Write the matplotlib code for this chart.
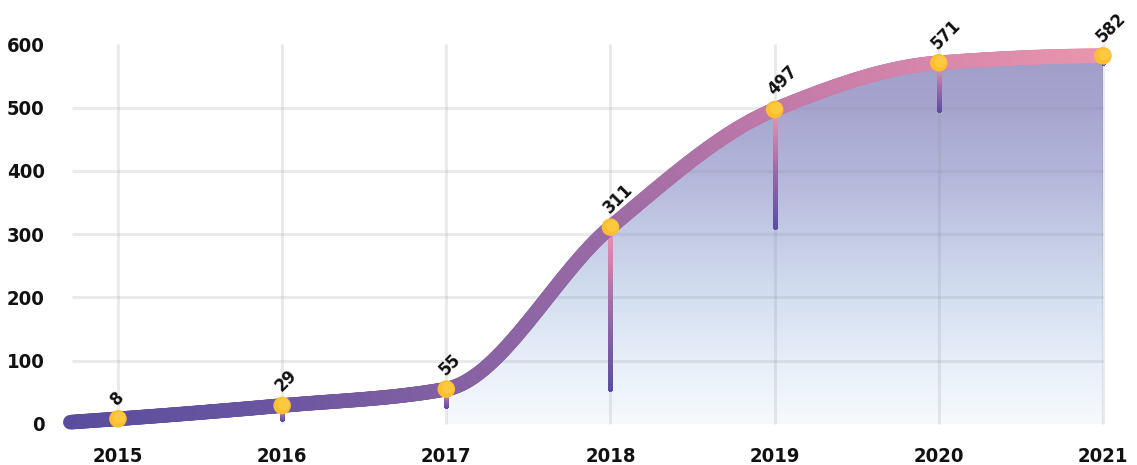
import numpy as np
import matplotlib
matplotlib.use("Agg")
import matplotlib.pyplot as plt
from matplotlib.collections import LineCollection
from matplotlib.colors import LinearSegmentedColormap

years = [2015, 2016, 2017, 2018, 2019, 2020, 2021]
values = [8, 29, 55, 311, 497, 571, 582]
yticks = [0, 100, 200, 300, 400, 500, 600]

FONT = dict(family='DejaVu Sans', stretch='condensed', weight='bold')


def pchip(x, y, xs):
    x = np.asarray(x, float); y = np.asarray(y, float)
    h = np.diff(x); d = np.diff(y) / h
    n = len(x); m = np.zeros(n)
    for k in range(1, n - 1):
        if d[k - 1] * d[k] > 0:
            w1 = 2 * h[k] + h[k - 1]; w2 = h[k] + 2 * h[k - 1]
            m[k] = (w1 + w2) / (w1 / d[k - 1] + w2 / d[k])
    m[0] = ((2 * h[0] + h[1]) * d[0] - h[0] * d[1]) / (h[0] + h[1])
    if np.sign(m[0]) != np.sign(d[0]): m[0] = 0
    m[-1] = ((2 * h[-1] + h[-2]) * d[-1] - h[-1] * d[-2]) / (h[-1] + h[-2])
    if np.sign(m[-1]) != np.sign(d[-1]): m[-1] = 0
    out = np.empty_like(xs)
    for i, xv in enumerate(xs):
        k = min(max(np.searchsorted(x, xv) - 1, 0), n - 2)
        t = (xv - x[k]) / h[k]
        h00 = 2*t**3 - 3*t**2 + 1; h10 = t**3 - 2*t**2 + t
        h01 = -2*t**3 + 3*t**2; h11 = t**3 - t**2
        out[i] = h00*y[k] + h10*h[k]*m[k] + h01*y[k+1] + h11*h[k]*m[k+1]
    return out, m


fig = plt.figure(figsize=(11.37, 4.65), dpi=100)
W, H = 1137, 465
ax = fig.add_axes([60 / W, (H - 440) / H, (1125 - 60) / W, (440 - 30) / H])
XL = (2014.647, 2021.134); YL = (-25.5, 622.8)
for s in ax.spines.values():
    s.set_visible(False)

grid_c = (0.55, 0.55, 0.62, 0.18)
for yr in years:
    ax.plot([yr, yr], [0, 600], color=grid_c, lw=2.2, zorder=3, solid_capstyle='butt')
for v in yticks[1:-1]:
    ax.plot([2014.72, years[-1]], [v, v], color=grid_c, lw=2.2, zorder=3, solid_capstyle='butt')

# smooth curve
xs = np.linspace(years[0], years[-1], 800)
ys, slopes = pchip(years, values, xs)
ext = 0.29
xe = np.linspace(years[0] - ext, years[0], 30, endpoint=False)
ye = values[0] + slopes[0] * (xe - years[0])
xc = np.concatenate([xe, xs]); yc = np.concatenate([ye, ys])

# gradient fill under curve from 2017
fill_cmap = LinearSegmentedColormap.from_list('fill', [
    (0.0, '#f7fafd'), (0.17, '#e6eef8'), (0.33, '#d4dff0'), (0.5, '#c3cbe5'),
    (0.67, '#b2b5d9'), (0.83, '#a7a5cf'), (1.0, '#a09bc8')])
grad = np.linspace(0, 1, 256).reshape(-1, 1)
img = ax.imshow(grad, extent=[years[2], years[-1], 0, 600], origin='lower',
                cmap=fill_cmap, aspect='auto', zorder=2, interpolation='bicubic')
mask = xs >= years[2]
poly = ax.fill_between(xs[mask], 0, ys[mask], color='none', lw=0)
img.set_clip_path(poly.get_paths()[0], transform=ax.transData)
ax.set_xlim(*XL)
ax.set_ylim(*YL)

# gradient line
line_cmap = LinearSegmentedColormap.from_list('line', [
    (0.0, '#5a4d9e'), (0.2, '#6a56a0'), (0.4, '#8862a4'), (0.52, '#9a6aa5'),
    (0.68, '#c079a8'), (0.85, '#d987ab'), (1.0, '#e995ad')])
pts = np.column_stack([xc, yc]).reshape(-1, 1, 2)
segs = np.concatenate([pts[:-1], pts[1:]], axis=1)
tpos = (xc[:-1] - xc[0]) / (xc[-1] - xc[0])
lc = LineCollection(segs, colors=line_cmap(tpos), linewidths=10.5, capstyle='round',
                    joinstyle='round', zorder=5)
ax.add_collection(lc)

# drop lines from each value down to previous value
drop_cmap = LinearSegmentedColormap.from_list('drop', ['#5b4ea0', '#9a6aa8', '#e992b0'])
prev = [0] + values[:-1]
for yr, v, p in zip(years, values, prev):
    n = 30
    yy = np.linspace(p, v, n + 1)
    dsegs = [[(yr, yy[i]), (yr, yy[i + 1])] for i in range(n)]
    cols = drop_cmap(np.linspace(0, 1, n))
    ax.add_collection(LineCollection(dsegs, colors=cols, linewidths=2.4,
                                     capstyle='round', antialiaseds=False, zorder=4))

# dots
ax.scatter(years, values, s=160, color='#fcbf2e', edgecolors='none', zorder=7)
ax.scatter(np.array(years) + 0.01, np.array(values) + 2, s=70, color='#ffd350',
           edgecolors='none', zorder=7, alpha=0.55)

# value labels
for yr, v in zip(years, values):
    ax.annotate(str(v), (yr, v), xytext=(-3, 12), textcoords='offset points',
                rotation=45, rotation_mode='anchor', ha='left', va='center',
                fontsize=13, color='#111111', zorder=8, **FONT)

ax.set_xticks(years)
ax.set_xticklabels([str(y) for y in years])
ax.set_yticks(yticks)
ax.set_yticklabels([str(v) for v in yticks])
ax.tick_params(length=0, labelsize=14.5)
ax.tick_params(axis='y', pad=11)
ax.tick_params(axis='x', pad=5)
for lab in ax.get_xticklabels() + ax.get_yticklabels():
    lab.set_fontweight('bold'); lab.set_family('DejaVu Sans')
    lab.set_fontstretch('condensed'); lab.set_color('#111111')

fig.savefig('out.png', dpi=100)
